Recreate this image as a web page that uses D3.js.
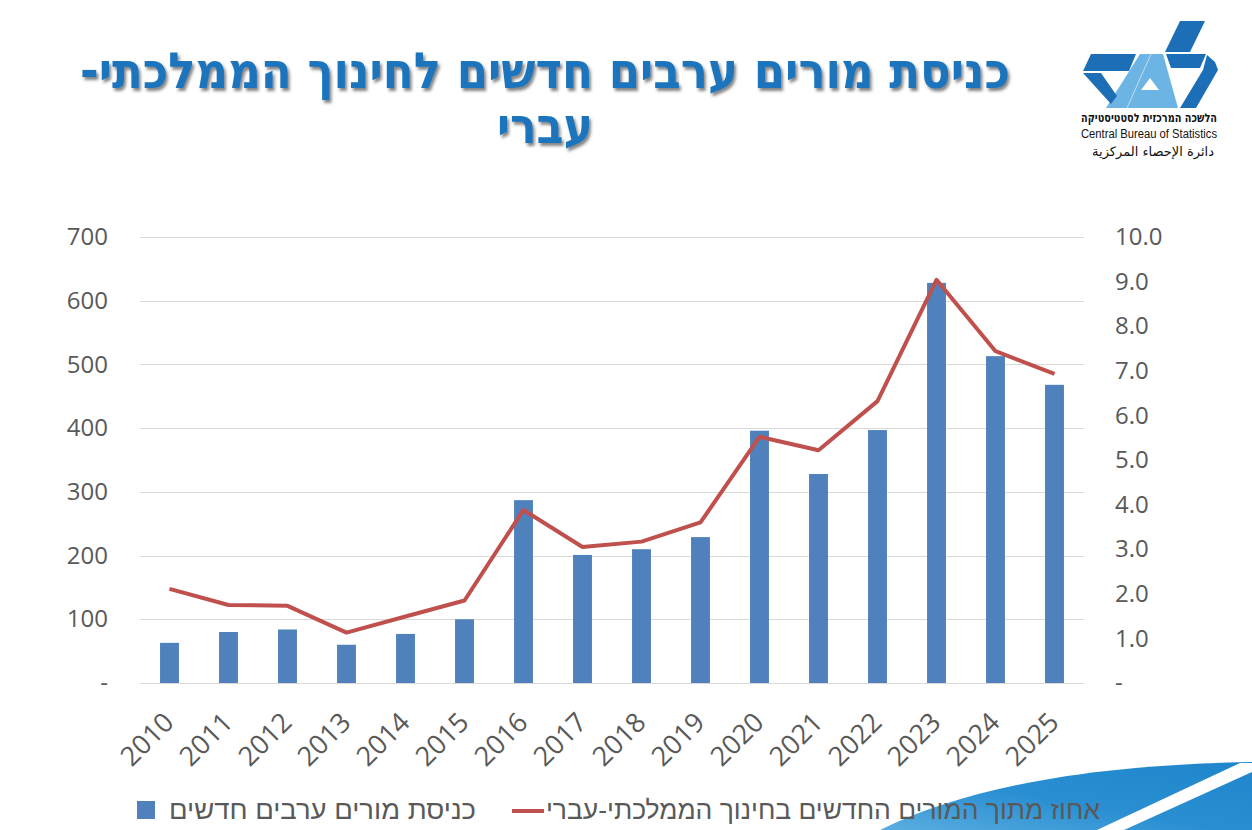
<!DOCTYPE html>
<html>
<head>
<meta charset="utf-8">
<script src="https://cdn.jsdelivr.net/npm/d3@7"></script>
<style>
  body { margin: 0; background: #fff; }
  svg { display: block; }
  text { font-family: "Open Sans", "DejaVu Sans", sans-serif; }
</style>
</head>
<body>
<div id="chart"></div>
<script>
var years = ["2010","2011","2012","2013","2014","2015","2016","2017","2018","2019","2020","2021","2022","2023","2024","2025"];
var teachers = [63, 80, 84, 60, 77, 100, 287, 201, 210, 229, 396, 328, 397, 628, 513, 468];
var percent = [2.11, 1.75, 1.73, 1.13, 1.49, 1.85, 3.88, 3.05, 3.17, 3.6, 5.52, 5.22, 6.32, 9.04, 7.44, 6.93];
var leftTicks = [0, 100, 200, 300, 400, 500, 600, 700];
var rightTicks = [0, 1, 2, 3, 4, 5, 6, 7, 8, 9, 10];
var titleLines = ["כניסת מורים ערבים חדשים לחינוך הממלכתי-", "עברי"];
var seriesNames = ["כניסת מורים ערבים חדשים", "אחוז מתוך המורים החדשים בחינוך הממלכתי-עברי"];

var W = 1252, H = 830;
var margin = {top: 237, right: 168, bottom: 147, left: 140};
var width = W - margin.left - margin.right,
    height = H - margin.top - margin.bottom;

var svg = d3.select("#chart").append("svg")
    .attr("width", W)
    .attr("height", H);

var defs = svg.append("defs");
var shadow = defs.append("filter").attr("id", "tshadow")
    .attr("x", "-5%").attr("y", "-20%").attr("width", "110%").attr("height", "150%");
shadow.append("feDropShadow")
    .attr("dx", 2).attr("dy", 3).attr("stdDeviation", 1.5)
    .attr("flood-color", "#333").attr("flood-opacity", 0.6);

var grad = defs.append("linearGradient").attr("id", "swoosh")
    .attr("x1", "0%").attr("y1", "100%").attr("x2", "100%").attr("y2", "0%");
grad.append("stop").attr("offset", "0%").attr("stop-color", "#5aaee0");
grad.append("stop").attr("offset", "45%").attr("stop-color", "#2a8fd2");
grad.append("stop").attr("offset", "100%").attr("stop-color", "#1f86cc");

// bottom right decoration
svg.append("path")
    .attr("d", "M880,830 C960,790 1080,765 1252,762 L1252,830 Z")
    .attr("fill", "url(#swoosh)");
svg.append("path")
    .attr("d", "M1240,763 L1252,763 L1252,772 L1124,830 L1097,830 Z")
    .attr("fill", "#fff");

// title
var title = svg.append("g").attr("filter", "url(#tshadow)");
title.append("text")
    .attr("x", 545).attr("y", 88)
    .attr("text-anchor", "middle")
    .attr("direction", "rtl")
    .attr("textLength", 930)
    .attr("lengthAdjust", "spacingAndGlyphs")
    .style("font-family", "'DejaVu Sans', sans-serif")
    .style("font-weight", "bold")
    .style("font-size", "50px")
    .style("fill", "#1b75bc")
    .text(titleLines[0]);
title.append("text")
    .attr("x", 545).attr("y", 143)
    .attr("text-anchor", "middle")
    .attr("direction", "rtl")
    .attr("textLength", 96)
    .attr("lengthAdjust", "spacingAndGlyphs")
    .style("font-family", "'DejaVu Sans', sans-serif")
    .style("font-weight", "bold")
    .style("font-size", "50px")
    .style("fill", "#1b75bc")
    .text(titleLines[1]);

// logo
var logo = svg.append("g");
var dark = "#1c6fb6", light = "#6cb4e4";
var lightShapes = [
  [[1140,54],[1163,54],[1178,108],[1106,108]]
];
var darkShapes = [
  [[1180,21],[1205,21],[1190,52],[1165,52]],
  [[1166,54],[1206,54],[1200,68],[1171,68]],
  [[1207,55],[1215,62],[1218,70],[1196,108],[1180,108],[1203,70]],
  [[1091,54],[1136,54],[1129,71],[1083,71]],
  [[1083,73],[1101,73],[1117,96],[1111,104]]
];
lightShapes.forEach(function(p){
  logo.append("polygon").attr("points", p.join(" ")).attr("fill", light);
});
darkShapes.forEach(function(p){
  logo.append("polygon").attr("points", p.join(" ")).attr("fill", dark);
});
logo.append("polygon").attr("points", [[1150,78],[1141,90],[1159,90]].join(" ")).attr("fill", "#fff");
logo.append("line").attr("x1", 1151).attr("y1", 54).attr("x2", 1127).attr("y2", 108)
    .attr("stroke", "#fff").attr("stroke-width", 0.8).attr("stroke-opacity", 0.7);
logo.append("text").attr("x", 1149).attr("y", 122).attr("text-anchor", "middle")
    .attr("direction", "rtl")
    .attr("textLength", 136).attr("lengthAdjust", "spacingAndGlyphs")
    .style("font-family", "'DejaVu Sans', sans-serif")
    .style("font-weight", "bold").style("font-size", "12px").style("fill", "#111")
    .text("הלשכה המרכזית לסטטיסטיקה");
logo.append("text").attr("x", 1149).attr("y", 138).attr("text-anchor", "middle")
    .attr("textLength", 136).attr("lengthAdjust", "spacingAndGlyphs")
    .style("font-family", "'Liberation Sans', sans-serif")
    .style("font-size", "12px").style("fill", "#111")
    .text("Central Bureau of Statistics");
logo.append("text").attr("x", 1153).attr("y", 156).attr("text-anchor", "middle")
    .attr("direction", "rtl")
    .style("font-family", "'DejaVu Sans', sans-serif")
    .style("font-size", "13px").style("fill", "#111")
    .text("دائرة الإحصاء المركزية");

var g = svg.append("g")
    .attr("transform", "translate(" + margin.left + "," + margin.top + ")");

var x = d3.scaleBand()
    .domain(years)
    .range([0, width])
    .paddingInner(0.68)
    .paddingOuter(0.34);

var y = d3.scaleLinear().domain([0, 700]).range([height, 0]);
var y2 = d3.scaleLinear().domain([0, 10]).range([height, 0]);

// gridlines
g.append("g")
  .selectAll("line")
  .data(leftTicks)
  .enter().append("line")
  .attr("x1", 0).attr("x2", width)
  .attr("y1", function(d){ return Math.round(y(d)) + 0.5; })
  .attr("y2", function(d){ return Math.round(y(d)) + 0.5; })
  .attr("stroke", "#d9d9d9").attr("stroke-width", 1);

var fmtL = function(d){ return d === 0 ? "-" : d3.format("d")(d); };
var fmtR = function(d){ return d === 0 ? "-" : d3.format(".1f")(d); };

var yAxis = d3.axisLeft(y).tickValues(leftTicks).tickFormat(fmtL).tickSize(0).tickPadding(32);
var yAxisR = d3.axisRight(y2).tickValues(rightTicks).tickFormat(fmtR).tickSize(0).tickPadding(31);

var ax1 = g.append("g").call(yAxis);
var ax2 = g.append("g").attr("transform", "translate(" + width + ",0)").call(yAxisR);
[ax1, ax2].forEach(function(a){
  a.select(".domain").remove();
  a.selectAll("text")
    .style("font-family", "'Open Sans', 'DejaVu Sans', sans-serif")
    .style("font-size", "24px").style("fill", "#595959");
});

// bars
g.selectAll(".bar")
  .data(teachers)
  .enter().append("rect")
  .attr("class", "bar")
  .attr("x", function(d, i){ return x(years[i]); })
  .attr("width", x.bandwidth())
  .attr("y", function(d){ return y(d); })
  .attr("height", function(d){ return height - y(d); })
  .attr("fill", "#4f81bd");

// line
var line = d3.line()
  .x(function(d, i){ return x(years[i]) + x.bandwidth() / 2; })
  .y(function(d){ return y2(d); });

g.append("path")
  .datum(percent)
  .attr("d", line)
  .attr("fill", "none")
  .attr("stroke", "#c0504d")
  .attr("stroke-width", 4)
  .attr("stroke-linejoin", "round");

// x labels
var xAxis = d3.axisBottom(x).tickSize(0).tickPadding(0);
var ax3 = g.append("g").attr("transform", "translate(0," + height + ")").call(xAxis);
ax3.select(".domain").remove();
ax3.selectAll("text")
  .attr("y", 0).attr("dy", 0)
  .attr("text-anchor", "end")
  .attr("transform", "translate(6,41) rotate(-45)")
  .style("font-family", "'Open Sans', 'DejaVu Sans', sans-serif")
  .style("font-size", "27px").style("fill", "#595959");

// legend
var legend = svg.append("g");
legend.append("rect")
  .attr("x", 137).attr("y", 801).attr("width", 18).attr("height", 18)
  .attr("fill", "#4f81bd");
legend.append("text")
  .attr("x", 476).attr("y", 819)
  .attr("text-anchor", "start")
  .attr("direction", "rtl")
  .attr("textLength", 307)
  .attr("lengthAdjust", "spacingAndGlyphs")
  .style("font-family", "'Liberation Sans', 'DejaVu Sans', sans-serif")
  .style("font-size", "26px").style("fill", "#595959")
  .text(seriesNames[0]);
legend.append("line")
  .attr("x1", 512).attr("x2", 544).attr("y1", 811).attr("y2", 811)
  .attr("stroke", "#c0504d").attr("stroke-width", 4);
legend.append("text")
  .attr("x", 1100).attr("y", 819)
  .attr("text-anchor", "start")
  .attr("direction", "rtl")
  .attr("textLength", 554)
  .attr("lengthAdjust", "spacingAndGlyphs")
  .style("font-family", "'Liberation Sans', 'DejaVu Sans', sans-serif")
  .style("font-size", "26px").style("fill", "#595959")
  .text(seriesNames[1]);
</script>
</body>
</html>
